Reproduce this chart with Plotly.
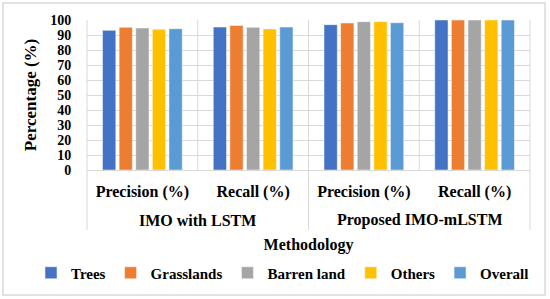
import plotly.graph_objects as go

methods = ["IMO with LSTM", "IMO with LSTM", "Proposed IMO-mLSTM", "Proposed IMO-mLSTM"]
metrics = ["Precision (%)", "Recall (%)", "Precision (%)", "Recall (%)"]
group_labels = ["IMO with LSTM", "Proposed IMO-mLSTM"]

series_names = ["Trees", "Grasslands", "Barren land", "Others", "Overall"]
trees = [93.1, 95.3, 96.9, 100]
grasslands = [95.1, 96.4, 98.0, 100]
barren_land = [94.7, 95.1, 98.9, 100]
others = [93.8, 94.0, 98.9, 100]
overall = [94.2, 95.3, 98.2, 100]
colors = ["#4472C4", "#ED7D31", "#A5A5A5", "#FFC000", "#5B9BD5"]

y_ticks = list(range(0, 101, 10))

FONT = "Liberation Serif"
x_keys = [m + " | " + k for m, k in zip(methods, metrics)]

fig = go.Figure()
for name, vals, col in zip(series_names, [trees, grasslands, barren_land, others, overall], colors):
    fig.add_trace(go.Bar(
        x=x_keys, y=vals, name=name,
        marker=dict(color=col, line=dict(color="white", width=0.5)),
    ))

grid = "#d9d9d9"
PH = 150.0  # plot height in px
PW = 443.0  # plot width in px
shapes = []
# vertical gridlines at category boundaries
for xp in [0, 0.25, 0.5, 0.75, 1.0]:
    shapes.append(dict(type="line", xref="paper", yref="y", x0=xp, x1=xp, y0=0, y1=100,
                       line=dict(color=grid, width=1), layer="below"))
# group dividers below the axis
for xp in [0, 0.5, 1.0]:
    shapes.append(dict(type="line", xref="paper", yref="paper", x0=xp, x1=xp,
                       y0=0, y1=-60 / PH, line=dict(color=grid, width=1)))
# outer chart border
shapes.append(dict(type="rect", xref="paper", yref="paper",
                   x0=(3 - 87) / PW, x1=(545 - 87) / PW,
                   y0=(170 - 295) / PH, y1=(170 - 3) / PH,
                   line=dict(color=grid, width=1.5)))

annotations = []
for i, g in enumerate(group_labels):
    annotations.append(dict(text="<b>" + g + "</b>", xref="paper", yref="paper",
                            x=0.25 + 0.5 * i, y=-50 / PH, xanchor="center", yanchor="middle",
                            showarrow=False, font=dict(family=FONT, size=16, color="black")))

fig.update_layout(
    width=550, height=299,
    margin=dict(l=87, r=20, t=20, b=129, autoexpand=False),
    paper_bgcolor="white", plot_bgcolor="white",
    font=dict(family=FONT, size=16, color="black"),
    barmode="group", bargap=0.25, bargroupgap=0.2,
    showlegend=True,
    legend=dict(orientation="h", xref="paper", x=(31 - 87) / PW, xanchor="left",
                yref="paper", y=(170 - 273) / PH, yanchor="middle",
                font=dict(family=FONT, size=15, color="black", weight="bold"),
                itemwidth=30, tracegroupgap=0, bgcolor="rgba(0,0,0,0)"),
    shapes=shapes,
    annotations=annotations,
)
fig.update_xaxes(
    type="category", automargin=False,
    tickvals=x_keys, ticktext=["<b>" + m + "</b>" for m in metrics],
    showgrid=False, showline=True, linecolor=grid, linewidth=1,
    ticks="outside", ticklen=7, tickcolor="rgba(0,0,0,0)",
    tickfont=dict(family=FONT, size=16, color="black"),
    title=dict(text="<b>Methodology</b>", font=dict(family=FONT, size=16), standoff=38),
)
fig.update_yaxes(
    range=[0, 100], tickvals=y_ticks, automargin=False,
    showgrid=True, gridcolor=grid, gridwidth=1,
    zeroline=False, showline=False,
    ticks="outside", ticklen=12, tickcolor="rgba(0,0,0,0)",
    tickfont=dict(family=FONT, size=14, color="black", weight="bold"),
    title=dict(text="<b>Percentage (%)</b>", font=dict(family=FONT, size=17), standoff=9),
)

fig.write_html("out.html", post_script="document.body.style.margin='0px';",
               config={"displayModeBar": False})
